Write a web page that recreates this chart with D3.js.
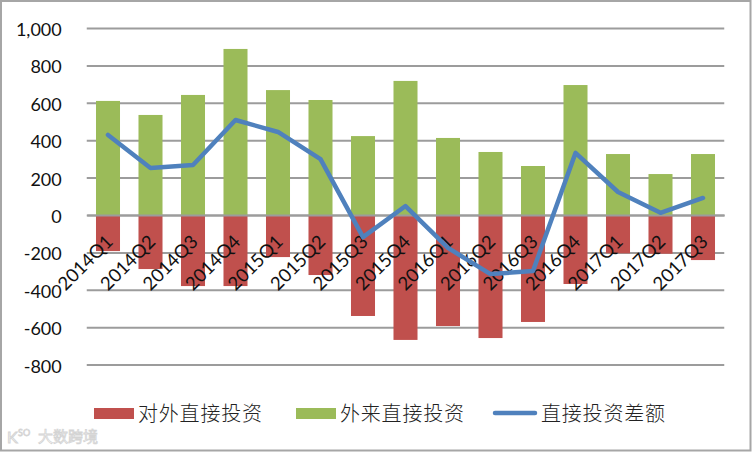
<!DOCTYPE html>
<html><head><meta charset="utf-8">
<script src="https://cdn.jsdelivr.net/npm/d3@7/dist/d3.min.js"></script>
<style>html,body{margin:0;padding:0;background:#fff}svg{display:block}</style></head>
<body><svg id="c" width="752" height="452"></svg>
<script>
const quarters=["2014Q1","2014Q2","2014Q3","2014Q4","2015Q1","2015Q2","2015Q3","2015Q4","2016Q1","2016Q2","2016Q3","2016Q4","2017Q1","2017Q2","2017Q3"];
const outward=[-193,-289,-380,-380,-225,-321,-540,-668,-594,-658,-572,-369,-205,-207,-241];
const inward=[610,535,642,888,668,615,422,717,412,337,262,695,326,219,326];
const balance=[428,251,267,508,444,299,-118,48,-176,-316,-299,332,123,12,91];
const yTicks=[1000,800,600,400,200,0,-200,-400,-600,-800];
const seriesNames=["对外直接投资","外来直接投资","直接投资差额"];
const RED="#c0504d",GREEN="#9bbb59",BLUE="#4f81bd",GRID="#9c9c9c";
const svg=d3.select("#c");
const x=d3.scaleBand().domain(quarters).range([86.75,724.25]).paddingInner(0.435).paddingOuter(0.2175);
const y=d3.scaleLinear().domain([-800,1000]).range([364.6,28]);
svg.append("rect").attr("x",1).attr("y",1).attr("width",749.5).attr("height",449.5).attr("fill","#fff").attr("stroke","#a6a6a6").attr("stroke-width",2);
const ya=svg.append("g").attr("transform","translate(86.75,0)")
 .call(d3.axisLeft(y).tickValues(yTicks).tickSize(-637.5).tickPadding(25).tickFormat(d=>d3.format(",")(d).replace("\u2212","-")));
ya.select(".domain").remove();
ya.selectAll("line").attr("stroke",GRID).attr("stroke-width",2);
ya.selectAll("text").attr("font-family","Lato").attr("font-size",18).attr("fill","#111").attr("dy","0.42em");
svg.append("g").selectAll("rect").data(quarters).join("rect")
 .attr("x",d=>x(d)).attr("width",x.bandwidth()).attr("y",y(0)).attr("height",(d,i)=>y(outward[i])-y(0)).attr("fill",RED);
svg.append("g").selectAll("rect").data(quarters).join("rect")
 .attr("x",d=>x(d)).attr("width",x.bandwidth()).attr("y",(d,i)=>y(inward[i])).attr("height",(d,i)=>y(0)-y(inward[i])).attr("fill",GREEN);
const xa=svg.append("g").attr("transform",`translate(0,${y(0)})`).call(d3.axisBottom(x).tickSize(0).tickFormat(d=>d));
xa.select(".domain").attr("stroke",GRID).attr("stroke-width",2);
xa.selectAll("text").attr("font-family","Lato").attr("font-size",18.5).attr("fill","#111").attr("text-anchor","end")
 .attr("dy",0).attr("y",0).attr("transform","translate(6,28) rotate(-45)");
const line=d3.line().x((d,i)=>x(quarters[i])+x.bandwidth()/2).y(d=>y(d));
svg.append("path").datum(balance).attr("d",line).attr("fill","none").attr("stroke",BLUE).attr("stroke-width",4.5).attr("stroke-linejoin","round").attr("stroke-linecap","round");
const leg=svg.append("g").attr("font-family","Noto Sans CJK SC").attr("font-size",20).attr("font-weight",300).attr("fill","#222");
const lx=[94,296,495],tx=[138,340,541];
seriesNames.forEach((n,i)=>{
 if(i<2) leg.append("rect").attr("x",lx[i]).attr("y",408).attr("width",40).attr("height",11).attr("fill",i?GREEN:RED);
 else leg.append("line").attr("x1",lx[i]).attr("x2",lx[i]+40).attr("y1",413).attr("y2",413).attr("stroke",BLUE).attr("stroke-width",4.5).attr("stroke-linecap","round");
 leg.append("text").attr("x",tx[i]).attr("y",421).attr("textLength",124).text(n);
});
const wm=svg.append("g").attr("fill","none").attr("stroke","#d4d4d4");
wm.append("text").attr("x",7).attr("y",443).attr("font-family","Lato").attr("font-size",16).attr("stroke-width",1).text("K");
wm.append("text").attr("x",18).attr("y",436).attr("font-family","Lato").attr("font-size",9).attr("stroke-width",.8).text("SO");
wm.append("text").attr("x",38).attr("y",442).attr("font-family","Noto Sans CJK SC").attr("font-size",15).attr("stroke-width",.8).text("大数跨境");
</script></body></html>
